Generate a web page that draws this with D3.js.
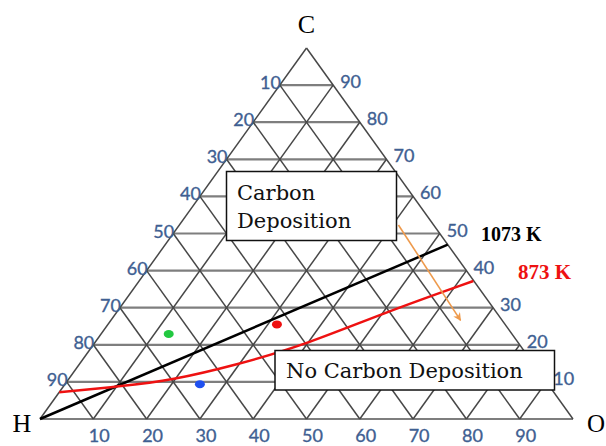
<!DOCTYPE html>
<html>
<head>
<meta charset="utf-8">
<script src="https://cdn.jsdelivr.net/npm/d3@7"></script>
<style>
  html, body { margin: 0; padding: 0; background: #fff; }
  svg { display: block; }
</style>
</head>
<body>
<svg id="chart" width="606" height="446"></svg>
<script>
// ---- data ----
const gridTicks = [10, 20, 30, 40, 50, 60, 70, 80, 90];
const vertexLabels = ["C", "H", "O"];          // top, bottom-left, bottom-right
const seriesNames = ["1073 K", "873 K"];
// boundary lines, ternary coords (C %, O %)
const line1073C = [0, 47];
const line1073O = [0, 53];
const line873C = [7.2, 8.8, 10.4, 14.6, 19.7, 28.9, 37.2];
const line873O = [0, 10.7, 19.5, 29.6, 39.3, 50.6, 62.7];
// experimental points
const pointColors = ["#22c840", "#ee1111", "#2050f0"];
const pointC = [22.9, 25.5, 9.4];
const pointO = [12.7, 31.7, 25.3];
// temperature-shift arrow
const arrowC = [52.3, 26.6];
const arrowO = [41.1, 65.6];
const regionLabels = [["Carbon", "Deposition"], ["No Carbon Deposition"]];

// ---- scales ----
const svg = d3.select("#chart");
const xs = d3.scaleLinear().domain([0, 100]).range([40, 573]);   // O + C/2
const ys = d3.scaleLinear().domain([0, 100]).range([419, 48]);   // C
const P = (c, o) => [xs(o + c / 2), ys(c)];

const gridH = "#7e7e7e", gridD = "#474747";
const g = svg.append("g");

// horizontal lines (constant C)
g.selectAll("line.h").data([0, ...gridTicks]).join("line")
  .attr("x1", k => P(k, 0)[0]).attr("y1", k => P(k, 0)[1])
  .attr("x2", k => P(k, 100 - k)[0]).attr("y2", k => P(k, 100 - k)[1])
  .attr("stroke", gridH).attr("stroke-width", 2.2);
// constant O (parallel to left edge)
g.selectAll("line.o").data([0, ...gridTicks]).join("line")
  .attr("x1", k => P(0, k)[0]).attr("y1", k => P(0, k)[1])
  .attr("x2", k => P(100 - k, k)[0]).attr("y2", k => P(100 - k, k)[1])
  .attr("stroke", gridD).attr("stroke-width", 1.5);
// constant H (parallel to right edge)
g.selectAll("line.hh").data([0, ...gridTicks]).join("line")
  .attr("x1", k => P(0, 100 - k)[0]).attr("y1", k => P(0, 100 - k)[1])
  .attr("x2", k => P(100 - k, 0)[0]).attr("y2", k => P(100 - k, 0)[1])
  .attr("stroke", gridD).attr("stroke-width", 1.5);

// tick labels
const tickColor = "#3f5f92";
const tickFont = "Lato, 'Open Sans', sans-serif";
const tl = svg.append("g").attr("fill", tickColor).attr("font-family", tickFont).attr("font-size", 18)
  .attr("stroke", tickColor).attr("stroke-width", 0.35);
tl.selectAll("text.b").data(gridTicks).join("text")
  .attr("x", k => P(0, k)[0] + 6).attr("y", k => P(0, k)[1] + 23)
  .attr("text-anchor", "middle").text(k => k);
tl.selectAll("text.l").data(gridTicks).join("text")
  .attr("x", k => P(k, 0)[0] + 1).attr("y", k => P(k, 0)[1] + 4)
  .attr("text-anchor", "end").text(k => 100 - k);
tl.selectAll("text.r").data(gridTicks).join("text")
  .attr("x", k => P(k, 100 - k)[0] + 7).attr("y", k => P(k, 100 - k)[1] + 3)
  .attr("text-anchor", "start").text(k => k);

// vertex labels
const vf = "'Liberation Serif', 'Times New Roman', serif";
svg.append("text").attr("x", P(100, 0)[0]).attr("y", 33).attr("text-anchor", "middle")
  .attr("font-family", vf).attr("font-size", 26).text(vertexLabels[0]);
svg.append("text").attr("x", P(0, 0)[0] - 18).attr("y", 432).attr("text-anchor", "middle")
  .attr("font-family", vf).attr("font-size", 26).text(vertexLabels[1]);
svg.append("text").attr("x", P(0, 100)[0] + 14).attr("y", 432).attr("text-anchor", "start")
  .attr("font-family", vf).attr("font-size", 25).text(vertexLabels[2]);

// boundary lines
svg.append("path")
  .attr("d", d3.line()(line1073C.map((c, i) => P(c, line1073O[i]))))
  .attr("fill", "none").attr("stroke", "#000").attr("stroke-width", 2.5);
svg.append("path")
  .attr("d", d3.line().curve(d3.curveBasis)(line873C.map((c, i) => P(c, line873O[i]))))
  .attr("fill", "none").attr("stroke", "#ee1111").attr("stroke-width", 2.5);

// arrow
const defs = svg.append("defs");
defs.append("marker").attr("id", "ah").attr("viewBox", "0 0 10 10")
  .attr("refX", 9).attr("refY", 5).attr("markerWidth", 8).attr("markerHeight", 8)
  .attr("markerUnits", "userSpaceOnUse").attr("orient", "auto")
  .append("path").attr("d", "M0,0 L10,5 L0,10 L3,5 Z").attr("fill", "#ee9a4c");
const a0 = P(arrowC[0], arrowO[0]), a1 = P(arrowC[1], arrowO[1]);
svg.append("line").attr("x1", a0[0]).attr("y1", a0[1]).attr("x2", a1[0]).attr("y2", a1[1])
  .attr("stroke", "#ee9a4c").attr("stroke-width", 1.6).attr("marker-end", "url(#ah)");

// points
svg.selectAll("ellipse.pt").data(pointC).join("ellipse")
  .attr("cx", (c, i) => P(c, pointO[i])[0]).attr("cy", (c, i) => P(c, pointO[i])[1])
  .attr("rx", 5).attr("ry", 4).attr("fill", (c, i) => pointColors[i]);

// region boxes
const bf = "'DejaVu Serif', serif";
svg.append("rect").attr("x", 226.5).attr("y", 171.5).attr("width", 170).attr("height", 69)
  .attr("fill", "#fff").attr("stroke", "#111").attr("stroke-width", 1.5);
svg.append("text").attr("font-family", bf).attr("font-size", 21).attr("fill", "#111")
  .selectAll("tspan").data(regionLabels[0]).join("tspan")
  .attr("x", 237).attr("y", (d, i) => 200 + i * 28).text(d => d);
svg.append("rect").attr("x", 275).attr("y", 350.5).attr("width", 279.5).attr("height", 39.5)
  .attr("fill", "#fff").attr("stroke", "#111").attr("stroke-width", 1.5);
svg.append("text").attr("font-family", bf).attr("font-size", 21).attr("fill", "#111")
  .attr("x", 286).attr("y", 378).text(regionLabels[1][0]);

// series labels
svg.append("text").attr("x", 481).attr("y", 240.5).attr("font-family", vf).attr("font-weight", "bold")
  .attr("font-size", 20).attr("fill", "#000").text(seriesNames[0]);
svg.append("text").attr("x", 518).attr("y", 279).attr("font-family", vf).attr("font-weight", "bold")
  .attr("font-size", 21).attr("fill", "#ee1111").text(seriesNames[1]);
</script>
</body>
</html>
